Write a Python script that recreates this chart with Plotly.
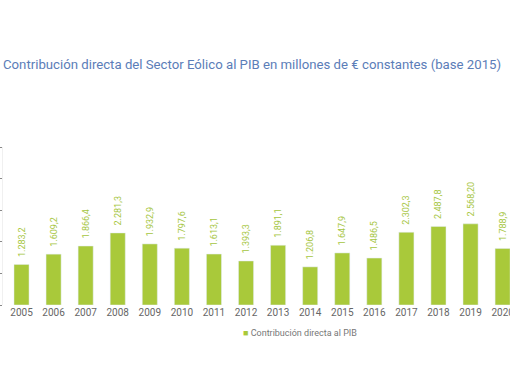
import plotly.graph_objects as go

years = ["2005", "2006", "2007", "2008", "2009", "2010", "2011", "2012",
         "2013", "2014", "2015", "2016", "2017", "2018", "2019", "2020"]
values = [1283.2, 1609.2, 1866.4, 2281.3, 1932.9, 1797.6, 1613.1, 1393.3,
          1891.1, 1206.8, 1647.9, 1486.5, 2302.3, 2487.8, 2568.2, 1788.9]
labels = ["1.283,2", "1.609,2", "1.866,4", "2.281,3", "1.932,9", "1.797,6", "1.613,1", "1.393,3",
          "1.891,1", "1.206,8", "1.647,9", "1.486,5", "2.302,3", "2.487,8", "2.568,20", "1.788,9"]
yticks = [0, 1000, 2000, 3000, 4000, 5000]
series_name = "Contribución directa al PIB"
title = "Contribución directa del Sector Eólico al PIB en millones de € constantes (base 2015)"

GREEN = "#a9c93a"

fig = go.Figure()
fig.add_trace(go.Bar(
    x=list(range(len(years))), y=values, name=series_name,
    marker_color=GREEN, width=0.47,
    text=["\u00a0\u00a0" + t for t in labels], textposition="outside", textangle=-90,
    constraintext="none",
    textfont=dict(size=9, color="#a6c63f", family="Roboto"),
    cliponaxis=False, showlegend=False,
))

fig.update_layout(
    width=510, height=382,
    margin=dict(l=3, r=0, t=147, b=77, autoexpand=False),
    paper_bgcolor="white", plot_bgcolor="white",
    showlegend=False, uniformtext=dict(mode=False),
    xaxis=dict(range=[-0.577, 15.23], tickmode="array", automargin=False,
               tickvals=list(range(len(years))), ticktext=years,
               ticklabeloverflow="allow",
               tickfont=dict(size=10, color="#666666", family="Roboto"),
               showgrid=False, zeroline=False, showline=False, ticks=""),
    yaxis=dict(range=[0, 5000], tickmode="array", tickvals=yticks, automargin=False,
               showticklabels=False,
               showgrid=False, zeroline=False, showline=True, linecolor="#f0f0f0",
               ticks="outside", ticklen=3, tickcolor="#888888"),
    annotations=[
        dict(text=title, xref="paper", yref="paper",
             x=(1 - 3) / 507, y=(305 - 65) / 158,
             xanchor="left", yanchor="middle", showarrow=False,
             font=dict(size=13.2, color="#5b7db8", family="Roboto")),
        dict(text=f"<span style='color:{GREEN}'>■</span> {series_name}",
             xref="paper", yref="paper",
             x=(241 - 3) / 507, y=(305 - 333) / 158,
             xanchor="left", yanchor="middle", showarrow=False,
             font=dict(size=9, color="#777777", family="Roboto")),
    ],
)

fig.write_html("out.html", config={"displayModeBar": False},
               post_script="document.body.style.margin='0';")
